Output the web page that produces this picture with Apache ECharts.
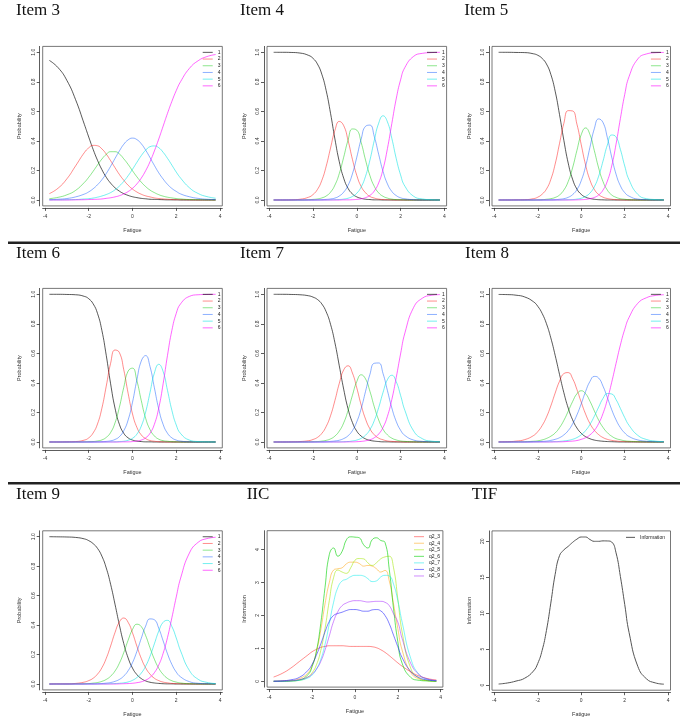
<!DOCTYPE html>
<html><head><meta charset="utf-8">
<script src="https://cdn.jsdelivr.net/npm/echarts@6/dist/echarts.min.js"></script>
<style>html,body{margin:0;padding:0;background:#fff}#c{width:685px;height:723px}</style>
</head><body><div id="c"></div>
<script>
// ---------- DATA ----------
const theta = [-3.8,-3.4,-3.0,-2.6,-2.2,-2.0,-1.8,-1.6,-1.4,-1.2,-1.0,-0.8,-0.6,-0.4,-0.2,0,0.2,0.4,0.6,0.8,1.0,1.2,1.4,1.6,1.8,2.0,2.2,2.6,3.0,3.4,3.8];
const categoryNames = ['1','2','3','4','5','6'];
const itemTitles = ['Item 3','Item 4','Item 5','Item 6','Item 7','Item 8','Item 9'];
const xTicks = [-4,-2,0,2,4];
const probTicks = [0,0.2,0.4,0.6,0.8,1.0];
const iicTicks = [0,1,2,3,4];
const tifTicks = [0,5,10,15,20];
const iicNames = ['q2_3','q2_4','q2_5','q2_6','q2_7','q2_8','q2_9'];

const item3Cat1 = [0.945,0.896,0.810,0.679,0.512,0.426,0.343,0.269,0.206,0.154,0.114,0.083,0.060,0.043,0.031,0.022,0.016,0.011,0.008,0.005,0.004,0.003,0.002,0.001,0.001,0.001,0,0,0,0,0];
const item3Cat2 = [0.043,0.080,0.143,0.231,0.321,0.353,0.370,0.367,0.346,0.311,0.266,0.219,0.173,0.134,0.100,0.074,0.054,0.039,0.028,0.021,0.014,0.010,0.007,0.005,0.003,0.002,0.002,0.001,0,0,0];
const item3Cat3 = [0.009,0.018,0.035,0.065,0.119,0.154,0.194,0.237,0.277,0.309,0.327,0.327,0.312,0.279,0.241,0.198,0.157,0.121,0.091,0.067,0.050,0.036,0.026,0.019,0.014,0.010,0.007,0.003,0.002,0.001,0];
const item3Cat4 = [0.002,0.005,0.010,0.021,0.040,0.055,0.076,0.103,0.137,0.179,0.228,0.281,0.332,0.377,0.407,0.419,0.409,0.381,0.338,0.287,0.234,0.184,0.142,0.106,0.078,0.058,0.041,0.022,0.011,0.005,0.003];
const item3Cat5 = [0.001,0.001,0.002,0.003,0.007,0.009,0.013,0.019,0.027,0.037,0.050,0.069,0.094,0.126,0.164,0.208,0.255,0.300,0.337,0.361,0.366,0.354,0.323,0.282,0.236,0.189,0.148,0.083,0.044,0.023,0.012];
const item3Cat6 = [0,0,0,0.001,0.002,0.003,0.004,0.005,0.007,0.011,0.015,0.021,0.029,0.041,0.057,0.079,0.109,0.148,0.198,0.259,0.332,0.413,0.500,0.587,0.668,0.741,0.802,0.891,0.943,0.971,0.985];

const item4Cat1 = [1.0,1.0,0.999,0.995,0.979,0.959,0.921,0.852,0.741,0.587,0.413,0.259,0.148,0.079,0.041,0.021,0.011,0.005,0.003,0.001,0.001,0,0,0,0,0,0,0,0,0,0];
const item4Cat2 = [0,0,0.001,0.005,0.019,0.037,0.071,0.132,0.228,0.352,0.471,0.532,0.504,0.404,0.275,0.166,0.091,0.049,0.024,0.013,0.006,0.003,0.002,0.001,0,0,0,0,0,0,0];
const item4Cat3 = [0,0,0,0,0.002,0.004,0.007,0.014,0.027,0.053,0.101,0.179,0.289,0.405,0.481,0.473,0.389,0.270,0.165,0.092,0.048,0.025,0.013,0.006,0.003,0.002,0.001,0,0,0,0];
const item4Cat4 = [0,0,0,0,0,0,0.001,0.002,0.004,0.007,0.013,0.027,0.053,0.099,0.177,0.290,0.413,0.499,0.507,0.429,0.309,0.193,0.109,0.058,0.030,0.015,0.008,0.002,0,0,0];
const item4Cat5 = [0,0,0,0,0,0,0,0,0,0.001,0.002,0.003,0.006,0.012,0.024,0.046,0.088,0.161,0.270,0.404,0.520,0.570,0.529,0.418,0.282,0.170,0.093,0.025,0.007,0.002,0];
const item4Cat6 = [0,0,0,0,0,0,0,0,0,0,0,0,0.001,0.001,0.002,0.004,0.008,0.016,0.031,0.061,0.116,0.209,0.348,0.517,0.684,0.813,0.898,0.973,0.993,0.998,1.0];

const item5Cat1 = [1.0,1.0,0.999,0.998,0.990,0.980,0.959,0.921,0.851,0.737,0.579,0.404,0.250,0.141,0.074,0.038,0.019,0.010,0.005,0.002,0.001,0,0,0,0,0,0,0,0,0,0];
const item5Cat2 = [0,0,0.001,0.002,0.009,0.019,0.039,0.074,0.139,0.243,0.382,0.519,0.605,0.603,0.514,0.374,0.237,0.135,0.072,0.037,0.019,0.010,0.005,0.002,0.001,0,0,0,0,0,0];
const item5Cat3 = [0,0,0,0,0,0.001,0.002,0.005,0.009,0.017,0.034,0.067,0.125,0.217,0.335,0.443,0.488,0.443,0.335,0.217,0.125,0.067,0.034,0.018,0.009,0.005,0.002,0,0,0,0];
const item5Cat4 = [0,0,0,0,0,0,0,0,0.001,0.002,0.005,0.009,0.018,0.036,0.070,0.131,0.228,0.357,0.482,0.549,0.525,0.423,0.291,0.175,0.096,0.050,0.026,0.006,0.002,0,0];
const item5Cat5 = [0,0,0,0,0,0,0,0,0,0,0,0.001,0.002,0.003,0.006,0.012,0.024,0.047,0.089,0.161,0.263,0.372,0.440,0.427,0.342,0.230,0.136,0.038,0.009,0.003,0.001];
const item5Cat6 = [0,0,0,0,0,0,0,0,0,0,0,0,0,0,0.001,0.002,0.004,0.009,0.017,0.034,0.067,0.128,0.230,0.378,0.552,0.715,0.836,0.955,0.989,0.997,0.999];

const item6Cat1 = [1.0,1.0,0.999,0.997,0.986,0.970,0.936,0.871,0.756,0.587,0.394,0.230,0.120,0.059,0.028,0.013,0.006,0.003,0.001,0.001,0,0,0,0,0,0,0,0,0,0,0];
const item6Cat2 = [0,0,0.001,0.003,0.013,0.028,0.061,0.122,0.228,0.378,0.533,0.623,0.606,0.490,0.330,0.190,0.099,0.048,0.023,0.010,0.005,0.002,0.001,0,0,0,0,0,0,0,0];
const item6Cat3 = [0,0,0,0,0.001,0.002,0.003,0.007,0.014,0.031,0.064,0.129,0.235,0.369,0.480,0.500,0.415,0.281,0.161,0.084,0.041,0.019,0.009,0.005,0.002,0.001,0,0,0,0,0];
const item6Cat4 = [0,0,0,0,0,0,0,0.001,0.002,0.004,0.008,0.017,0.036,0.076,0.149,0.269,0.421,0.548,0.585,0.511,0.367,0.223,0.119,0.059,0.028,0.013,0.006,0.001,0,0,0];
const item6Cat5 = [0,0,0,0,0,0,0,0,0,0,0.001,0.001,0.003,0.005,0.012,0.025,0.053,0.107,0.202,0.335,0.467,0.526,0.477,0.349,0.214,0.115,0.057,0.013,0.003,0.001,0];
const item6Cat6 = [0,0,0,0,0,0,0,0,0,0,0,0,0,0.001,0.001,0.003,0.006,0.013,0.028,0.059,0.120,0.230,0.394,0.587,0.756,0.871,0.936,0.986,0.997,0.999,1.0];

const item7Cat1 = [1.0,1.0,0.999,0.997,0.990,0.981,0.965,0.935,0.882,0.797,0.672,0.516,0.358,0.225,0.132,0.073,0.040,0.021,0.011,0.006,0.003,0.001,0.001,0,0,0,0,0,0,0,0];
const item7Cat2 = [0,0,0.001,0.003,0.009,0.017,0.031,0.058,0.105,0.178,0.281,0.397,0.488,0.516,0.467,0.366,0.250,0.155,0.089,0.049,0.026,0.015,0.007,0.004,0.002,0.001,0,0,0,0,0];
const item7Cat3 = [0,0,0,0,0.001,0.002,0.003,0.006,0.011,0.021,0.040,0.074,0.129,0.213,0.316,0.409,0.455,0.427,0.343,0.238,0.149,0.086,0.048,0.026,0.014,0.007,0.004,0.001,0,0,0];
const item7Cat4 = [0,0,0,0,0,0,0,0.001,0.002,0.004,0.007,0.012,0.023,0.042,0.077,0.137,0.226,0.343,0.458,0.533,0.535,0.463,0.348,0.231,0.140,0.080,0.044,0.013,0.004,0.001,0];
const item7Cat5 = [0,0,0,0,0,0,0,0,0,0,0.001,0.001,0.002,0.003,0.007,0.013,0.025,0.046,0.084,0.145,0.233,0.336,0.422,0.452,0.409,0.316,0.213,0.074,0.022,0.006,0.002];
const item7Cat6 = [0,0,0,0,0,0,0,0,0,0,0,0,0,0.001,0.001,0.002,0.004,0.008,0.015,0.029,0.054,0.099,0.174,0.287,0.435,0.596,0.739,0.912,0.974,0.993,0.998];

const item8Cat1 = [0.999,0.998,0.994,0.982,0.950,0.919,0.871,0.801,0.705,0.587,0.458,0.334,0.230,0.151,0.095,0.059,0.036,0.022,0.013,0.008,0.005,0.003,0.002,0.001,0,0,0,0,0,0,0];
const item8Cat2 = [0.001,0.002,0.006,0.016,0.043,0.070,0.111,0.168,0.244,0.331,0.411,0.463,0.470,0.430,0.356,0.269,0.189,0.125,0.080,0.050,0.030,0.018,0.011,0.007,0.004,0.003,0.002,0.001,0,0,0];
const item8Cat3 = [0,0,0.001,0.002,0.005,0.008,0.014,0.024,0.039,0.061,0.097,0.146,0.208,0.273,0.326,0.347,0.327,0.276,0.211,0.148,0.099,0.063,0.039,0.023,0.015,0.008,0.005,0.002,0.001,0,0];
const item8Cat4 = [0,0,0,0,0.002,0.003,0.004,0.006,0.011,0.018,0.029,0.048,0.077,0.122,0.183,0.259,0.342,0.410,0.444,0.433,0.378,0.301,0.219,0.150,0.097,0.061,0.037,0.014,0.005,0.002,0.001];
const item8Cat5 = [0,0,0,0,0,0,0.001,0.001,0.002,0.002,0.004,0.007,0.011,0.018,0.030,0.049,0.077,0.119,0.174,0.236,0.295,0.328,0.325,0.287,0.227,0.165,0.112,0.045,0.017,0.006,0.002];
const item8Cat6 = [0,0,0,0,0,0,0,0,0,0.001,0.001,0.002,0.004,0.006,0.010,0.018,0.029,0.048,0.078,0.125,0.193,0.287,0.404,0.532,0.657,0.763,0.844,0.939,0.977,0.992,0.997];

const item9Cat1 = [1.0,0.999,0.998,0.995,0.985,0.973,0.953,0.921,0.868,0.788,0.677,0.542,0.401,0.275,0.177,0.108,0.064,0.037,0.021,0.012,0.007,0.004,0.002,0.001,0.001,0,0,0,0,0,0];
const item9Cat2 = [0,0.001,0.001,0.004,0.013,0.023,0.039,0.067,0.110,0.174,0.258,0.349,0.421,0.448,0.419,0.347,0.257,0.174,0.110,0.067,0.039,0.023,0.013,0.008,0.004,0.003,0.002,0.001,0,0,0];
const item9Cat3 = [0,0,0,0.001,0.002,0.003,0.006,0.010,0.018,0.031,0.053,0.088,0.141,0.213,0.297,0.370,0.406,0.390,0.329,0.246,0.168,0.107,0.065,0.038,0.022,0.013,0.007,0.002,0.001,0,0];
const item9Cat4 = [0,0,0,0,0,0.001,0.001,0.002,0.003,0.006,0.010,0.018,0.031,0.054,0.090,0.145,0.221,0.310,0.393,0.442,0.436,0.378,0.293,0.205,0.133,0.081,0.048,0.016,0.005,0.002,0.001];
const item9Cat5 = [0,0,0,0,0,0,0,0,0.001,0.001,0.002,0.003,0.005,0.008,0.014,0.025,0.044,0.074,0.121,0.188,0.273,0.359,0.419,0.432,0.390,0.312,0.224,0.092,0.032,0.011,0.003];
const item9Cat6 = [0,0,0,0,0,0,0,0,0,0,0,0,0.001,0.002,0.003,0.005,0.009,0.015,0.026,0.045,0.077,0.129,0.208,0.316,0.450,0.591,0.719,0.889,0.962,0.987,0.996];

const iicQ3 = [0.13,0.24,0.40,0.60,0.80,0.90,0.97,1.03,1.06,1.08,1.08,1.08,1.08,1.07,1.06,1.06,1.06,1.06,1.06,1.05,1.02,0.96,0.88,0.78,0.67,0.56,0.46,0.29,0.16,0.08,0.04];
const iicQ4 = [0,0.01,0.02,0.08,0.25,0.48,0.9,1.55,2.35,3.0,3.38,3.42,3.45,3.57,3.62,3.62,3.58,3.5,3.52,3.5,3.42,3.32,3.37,3.05,2.35,1.6,0.95,0.27,0.07,0.02,0];
const iicQ5 = [0,0,0.01,0.03,0.13,0.26,0.5,0.93,1.6,2.45,3.15,3.38,3.32,3.28,3.45,3.68,3.73,3.72,3.6,3.52,3.6,3.72,3.78,3.8,3.45,2.5,1.5,0.4,0.09,0.02,0];
const iicQ6 = [0,0,0.01,0.04,0.2,0.45,0.92,1.75,2.85,3.85,4.05,3.8,3.95,4.3,4.39,4.38,4.36,4.15,4.05,4.3,4.36,4.28,4.22,3.4,2.2,1.2,0.55,0.12,0.03,0.01,0];
const iicQ7 = [0,0,0.01,0.03,0.1,0.19,0.37,0.66,1.12,1.75,2.4,2.85,3.05,3.1,3.18,3.22,3.22,3.2,3.12,3.03,3.05,3.17,3.22,3.2,2.95,2.45,1.8,0.7,0.2,0.06,0.02];
const iicQ8 = [0.005,0.015,0.045,0.12,0.33,0.52,0.8,1.13,1.5,1.82,2.0,2.06,2.1,2.15,2.18,2.18,2.16,2.13,2.13,2.17,2.18,2.14,2.0,1.75,1.4,1.05,0.72,0.3,0.11,0.04,0.015];
const iicQ9 = [0,0.005,0.015,0.05,0.13,0.22,0.37,0.6,0.95,1.38,1.82,2.12,2.3,2.38,2.43,2.45,2.45,2.43,2.41,2.42,2.43,2.43,2.4,2.3,2.05,1.8,1.3,0.55,0.2,0.07,0.025];

const tifInfo = [0.14,0.28,0.55,0.95,1.94,3.0,4.8,7.6,11.4,15.4,18.0,18.8,19.3,19.85,20.3,20.6,20.6,20.25,20.0,20.0,20.06,20.05,19.9,18.4,15.1,11.2,7.3,2.6,0.86,0.3,0.12];

// ---------- LAYOUT / STYLE ----------
const FONT = '"Liberation Sans", Arial, sans-serif';
const SERIF = '"Liberation Serif", "Times New Roman", serif';
const catColors = ['rgba(0,0,0,0.65)','rgba(255,0,0,0.45)','rgba(0,200,0,0.45)','rgba(0,80,255,0.45)','rgba(0,225,225,0.55)','rgba(255,0,255,0.6)'];
const iicColors = ['rgba(255,0,0,0.45)','rgba(255,160,0,0.5)','rgba(160,230,0,0.55)','rgba(0,210,0,0.6)','rgba(0,235,235,0.5)','rgba(0,0,255,0.5)','rgba(150,0,255,0.45)'];
const boxes = [
  [42.7,46.4,179.6,159.5],[267.0,46.4,179.6,159.5],[492.0,46.4,178.5,159.5],
  [42.7,288.4,179.6,159.5],[267.0,288.4,179.6,159.5],[492.0,288.4,178.5,159.5],
  [42.7,530.8,179.6,159.1],[267.1,530.7,175.8,156.4],[492.0,530.9,178.5,159.3]
];
const titlePos = [[16,10.2],[240,10.2],[464.3,10.2],[16,253.2],[240,253.2],[465,253.2],[16,494.5],[246.7,494.5],[471.7,494.5]];
const panelTitles = itemTitles.concat(['IIC','TIF']);

const itemData = [
  [item3Cat1,item3Cat2,item3Cat3,item3Cat4,item3Cat5,item3Cat6],
  [item4Cat1,item4Cat2,item4Cat3,item4Cat4,item4Cat5,item4Cat6],
  [item5Cat1,item5Cat2,item5Cat3,item5Cat4,item5Cat5,item5Cat6],
  [item6Cat1,item6Cat2,item6Cat3,item6Cat4,item6Cat5,item6Cat6],
  [item7Cat1,item7Cat2,item7Cat3,item7Cat4,item7Cat5,item7Cat6],
  [item8Cat1,item8Cat2,item8Cat3,item8Cat4,item8Cat5,item8Cat6],
  [item9Cat1,item9Cat2,item9Cat3,item9Cat4,item9Cat5,item9Cat6]
];
const iicData = [iicQ3,iicQ4,iicQ5,iicQ6,iicQ7,iicQ8,iicQ9];

const grids=[], xAxes=[], yAxes=[], series=[], legends=[], graphics=[];
const axisCol = '#333';
const SMOOTH = 0.5;

function addAxes(i, yMin, yMax, yTicks, yFmt, yName){
  const b = boxes[i];
  grids.push({left:b[0], top:b[1], width:b[2], height:b[3], show:true, borderColor:'#555', borderWidth:0.8, containLabel:false});
  xAxes.push({type:'value', gridIndex:i, min:-4.104, max:4.104, offset:2,
    axisLine:{show:true, onZero:false, lineStyle:{color:axisCol, width:0.8}},
    axisTick:{show:true, length:3, customValues:xTicks, lineStyle:{color:axisCol, width:0.8}},
    axisLabel:{customValues:xTicks, fontSize:5, color:axisCol, margin:6, fontFamily:FONT},
    splitLine:{show:false},
    name:'Fatigue', nameLocation:'middle', nameGap:19.5,
    nameTextStyle:{fontSize:5.5, color:axisCol, fontFamily:FONT}});
  yAxes.push({type:'value', gridIndex:i, min:yMin, max:yMax, offset:3,
    axisLine:{show:true, onZero:false, lineStyle:{color:axisCol, width:0.8}},
    axisTick:{show:true, length:3, customValues:yTicks, lineStyle:{color:axisCol, width:0.8}},
    axisLabel:{customValues:yTicks, fontSize:5, color:axisCol, margin:3.5, rotate:90, fontFamily:FONT, formatter:yFmt},
    splitLine:{show:false},
    name:yName, nameLocation:'middle', nameGap:17, nameRotate:90,
    nameTextStyle:{fontSize:5.5, color:axisCol, fontFamily:FONT}});
}

function addLegend(names, left, top, itemW, lh){
  legends.push({data:names, orient:'vertical', left:left, top:top, icon:'rect', itemWidth:itemW, itemHeight:1,
    itemGap:0, padding:0, selectedMode:false,
    textStyle:{fontSize:5, color:'#222', fontFamily:FONT, lineHeight:lh, padding:0}});
}

function lineSeries(name, idx, arr, col){
  return {type:'line', name:name, xAxisIndex:idx, yAxisIndex:idx,
    data:theta.map((t,j)=>[t, arr[j]]), symbol:'none', smooth:SMOOTH,
    color:col, lineStyle:{width:1, color:col}, silent:true};
}

// item panels
for (let i=0;i<7;i++){
  addAxes(i, -0.04, 1.04, probTicks, v=>v.toFixed(1), 'Probability');
  const b = boxes[i];
  itemData[i].forEach((arr,k)=>{ series.push(lineSeries(categoryNames[k], i, arr, catColors[k])); });
  addLegend(categoryNames, b[0]+b[2]-19.6, b[1]+2.6, 10, 6.7);
}
// IIC
addAxes(7, -0.176, 4.576, iicTicks, v=>String(v), 'Information');
iicData.forEach((arr,k)=>{ series.push(lineSeries(iicNames[k], 7, arr, iicColors[k])); });
addLegend(iicNames, 414, 533.4, 10, 6.55);
// TIF
addAxes(8, -0.72, 21.45, tifTicks, v=>String(v), 'Information');
series.push(lineSeries('Information', 8, tifInfo, '#555'));
addLegend(['Information'], 626, 534, 9, 6.7);

// titles
panelTitles.forEach((t,i)=>{
  graphics.push({type:'text', x:titlePos[i][0], y:titlePos[i][1], silent:true,
    style:{text:t, fontSize:17, fontFamily:SERIF, fill:'#111', verticalAlign:'middle'}});
});
// separators
[242.7, 483.3].forEach(y=>{
  graphics.push({type:'line', silent:true, shape:{x1:8, y1:y, x2:680, y2:y}, style:{stroke:'#222', lineWidth:2.6}});
});

const chart = echarts.init(document.getElementById('c'), null, {renderer:'canvas', width:685, height:723});
chart.setOption({
  animation:false, backgroundColor:'#fff',
  grid:grids, xAxis:xAxes, yAxis:yAxes, series:series, legend:legends, graphic:graphics
});
</script>
</body></html>
